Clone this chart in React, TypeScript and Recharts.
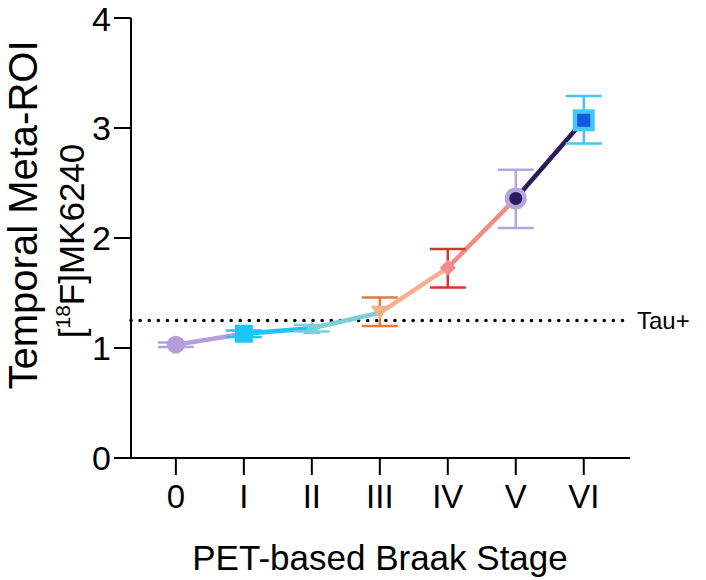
import React from "react";
import {
  ComposedChart,
  Line,
  Scatter,
  XAxis,
  YAxis,
  ErrorBar,
  ReferenceLine,
  Label,
} from "recharts";

// ---- data ----
const stages = ["0", "I", "II", "III", "IV", "V", "VI"];
const means = [1.03, 1.13, 1.18, 1.32, 1.73, 2.36, 3.07];
const lows = [1.01, 1.1, 1.15, 1.2, 1.55, 2.09, 2.86];
const highs = [1.05, 1.16, 1.21, 1.46, 1.9, 2.62, 3.29];
const tauThreshold = 1.25;
const yTicks = [0, 1, 2, 3, 4];

const segColors = ["#b49fdc", "#1cc6f4", "#7ccfd9", "#f8b08c", "#f48a8c", "#2b1a5c"];
const errColors = ["#b49fdc", "#1cc6f4", "#7ccfd9", "#e8783a", "#cc3a2a", "#b5a6e0", "#45c6f3"];

// table for segments: row i holds key s{i-1} and s{i}
const lineRows = stages.map((_, i) => {
  const row: any = { x: i };
  if (i > 0) row["s" + (i - 1)] = means[i];
  if (i < stages.length - 1) row["s" + i] = means[i];
  return row;
});

const pointRows = stages.map((_, i) => ({
  x: i,
  y: means[i],
  err: [means[i] - lows[i], highs[i] - means[i]],
}));

const FONT = "'Liberation Sans', Arial, Helvetica, sans-serif";

const shapes: ((p: any) => React.ReactElement)[] = [
  (p) => <circle cx={p.cx} cy={p.cy} r={9} fill="#b49fdc" />,
  (p) => <rect x={p.cx - 9} y={p.cy - 9} width={18} height={18} fill="#1cc6f4" />,
  (p) => (
    <polygon
      points={`${p.cx - 9},${p.cy + 6} ${p.cx + 9},${p.cy + 6} ${p.cx},${p.cy - 7}`}
      fill="#7ccfd9"
    />
  ),
  (p) => (
    <polygon
      points={`${p.cx - 9},${p.cy - 7} ${p.cx + 9},${p.cy - 7} ${p.cx},${p.cy + 7}`}
      fill="#f8b08c"
    />
  ),
  (p) => (
    <polygon
      points={`${p.cx},${p.cy - 8} ${p.cx + 8},${p.cy} ${p.cx},${p.cy + 8} ${p.cx - 8},${p.cy}`}
      fill="#f48a8c"
    />
  ),
  (p) => (
    <g>
      <circle cx={p.cx} cy={p.cy} r={11} fill="#b5a6e0" />
      <circle cx={p.cx} cy={p.cy} r={6.5} fill="#2b1a5c" />
    </g>
  ),
  (p) => (
    <g>
      <rect x={p.cx - 11} y={p.cy - 11} width={22} height={22} fill="#45c6f3" />
      <rect x={p.cx - 6.5} y={p.cy - 6.5} width={13} height={13} fill="#1558e6" />
    </g>
  ),
];

export default function App() {
  return (
    <div style={{ position: "absolute", left: 0, top: 0, background: "#fff" }}>
      <ComposedChart
        width={706}
        height={580}
        data={lineRows}
        margin={{ top: 18, right: 76, bottom: 0, left: 0 }}
      >
        <XAxis
          dataKey="x"
          type="number"
          domain={[-0.66, 6.68]}
          ticks={[0, 1, 2, 3, 4, 5, 6]}
          tickFormatter={(v: number) => stages[v]}
          height={122}
          tickSize={17}
          tickMargin={10}
          stroke="#000"
          strokeWidth={2}
          tick={{ fill: "#000", fontSize: 33, fontFamily: FONT }}
          allowDataOverflow
        >
          <Label
            content={() => (
              <text
                x={380}
                y={570}
                textAnchor="middle"
                fontSize={35}
                fontFamily={FONT}
                fill="#000"
              >
                PET-based Braak Stage
              </text>
            )}
          />
        </XAxis>
        <YAxis
          type="number"
          domain={[0, 4]}
          ticks={yTicks}
          width={131}
          tickSize={17}
          tickMargin={3}
          stroke="#000"
          strokeWidth={2}
          tick={{ fill: "#000", fontSize: 34, fontFamily: FONT }}
        >
          <Label
            content={() => (
              <g fontFamily={FONT} fill="#000">
                <text
                  transform="translate(37,215) rotate(-90)"
                  fontSize={40}
                  textAnchor="middle"
                >
                  Temporal Meta-ROI
                </text>
                <text
                  transform="translate(84,241) rotate(-90)"
                  fontSize={35}
                  textAnchor="middle"
                >
                  [<tspan fontSize={21} dy={-14}>18</tspan>
                  <tspan dy={14}>F]MK6240</tspan>
                </text>
              </g>
            )}
          />
        </YAxis>
        <ReferenceLine
          y={tauThreshold}
          stroke="#000"
          strokeWidth={3.5}
          strokeDasharray="0.1 9"
          strokeLinecap="round"
          label={{
            value: "Tau+",
            position: "right",
            offset: 7,
            fill: "#000",
            fontSize: 24,
            fontFamily: FONT,
          }}
        />
        {segColors.map((c, i) => (
          <Line
            key={"s" + i}
            dataKey={"s" + i}
            stroke={c}
            strokeWidth={4.5}
            dot={false}
            activeDot={false}
            connectNulls={false}
            isAnimationActive={false}
          />
        ))}
        {pointRows.map((r, i) => (
          <Scatter
            key={"p" + i}
            data={[r]}
            dataKey="y"
            shape={shapes[i]}
            isAnimationActive={false}
          >
            <ErrorBar
              dataKey="err"
              direction="y"
              width={18}
              strokeWidth={2.5}
              stroke={errColors[i]}
            />
          </Scatter>
        ))}
      </ComposedChart>
    </div>
  );
}
